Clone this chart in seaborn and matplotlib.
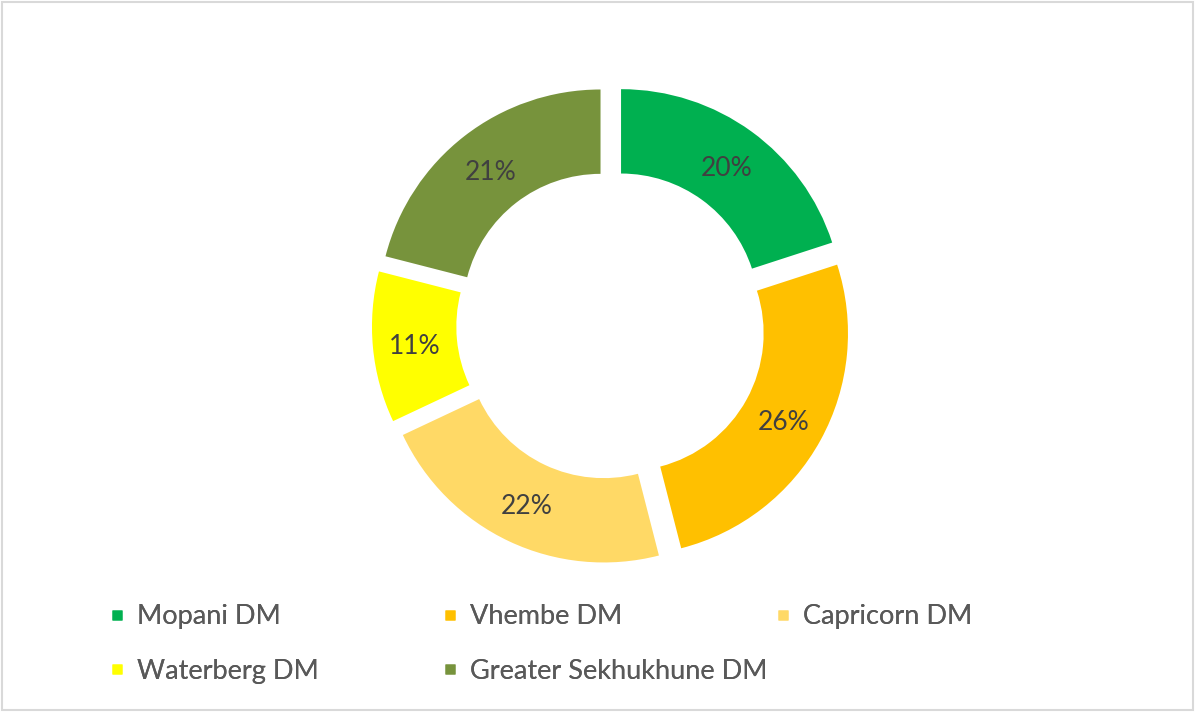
import matplotlib
matplotlib.use("Agg")
import matplotlib.pyplot as plt
import seaborn as sns
from matplotlib.lines import Line2D
from matplotlib.patches import Rectangle

# Data
districts = ["Mopani DM", "Vhembe DM", "Capricorn DM", "Waterberg DM", "Greater Sekhukhune DM"]
shares = [20, 26, 22, 11, 21]
colors = ["#00B050", "#FFC000", "#FFD966", "#FFFF00", "#77933C"]

sns.set_theme(style="white")
plt.rcParams['font.family'] = ['Lato', 'DejaVu Sans']

W, H = 1195, 712
fig = plt.figure(figsize=(W / 100, H / 100), dpi=100)
ax = fig.add_axes([0, 0, 1, 1])

# donut centre / radius in pixels
cx, cy, R = 611, 325, 222

wedges, texts, autotexts = ax.pie(
    shares, colors=colors, startangle=90, counterclock=False,
    explode=[0.077] * len(shares), radius=1,
    wedgeprops=dict(width=0.38, edgecolor="none"),
    autopct="%1.0f%%", pctdistance=0.81,
    textprops=dict(color="#404040", fontsize=19))

# nudge labels down a little to sit like the original
for t in autotexts:
    x, y = t.get_position()
    t.set_position((x, y - 3 / R))

ax.set_aspect("equal")
ax.set_xlim(-cx / R, (W - cx) / R)
ax.set_ylim(-(H - cy) / R, cy / R)
ax.axis("off")

# legend: three fixed columns like the original
cols = [[0, 3], [1, 4], [2]]
col_x = [109, 442, 775]
for idx, x in zip(cols, col_x):
    handles = [Line2D([], [], marker="s", linestyle="none", markersize=7.5,
                      markerfacecolor=colors[i], markeredgecolor="none") for i in idx]
    leg = fig.legend(handles, [districts[i] for i in idx],
                     loc="upper left", bbox_to_anchor=(x / W, 1 - 604 / H),
                     frameon=False, fontsize=19.5, labelcolor="#595959",
                     handlelength=0.6, handletextpad=0.45, labelspacing=1.1,
                     borderpad=0, borderaxespad=0)
    fig.add_artist(leg)

# chart border
fig.patches.append(Rectangle((2 / W, 2 / H), 1 - 4 / W, 1 - 4 / H, transform=fig.transFigure,
                             fill=False, edgecolor="#D9D9D9", linewidth=1.5))

fig.savefig("out.png", dpi=100)
